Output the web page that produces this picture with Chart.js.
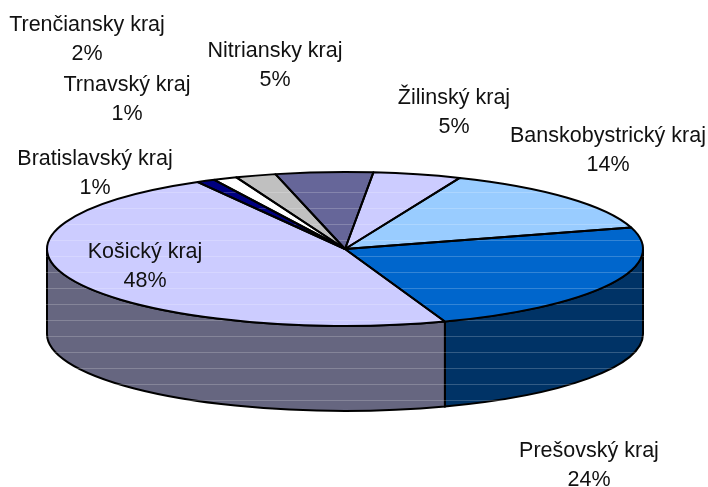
<!DOCTYPE html>
<html><head><meta charset="utf-8">
<script src="https://cdn.jsdelivr.net/npm/chart.js@4"></script>
<style>html,body{margin:0;padding:0;background:#fff}#w{position:relative;width:708px;height:487px}</style>
</head><body><div id="w"><canvas id="c" width="708" height="487"></canvas></div>
<script>
const categories = ['Bratislavský kraj','Trnavský kraj','Trenčiansky kraj','Nitriansky kraj','Žilinský kraj','Banskobystrický kraj','Prešovský kraj','Košický kraj'];
const values = [1.0,1.3,2.2,5.3,4.8,14.3,24.2,47.5];
const faceColors = ['#000080','#FFFFFF','#C0C0C0','#666699','#CCCCFF','#99CCFF','#0066CC','#CCCCFF'];
const wallColors = ['#000040','#808080','#606060','#333366','#666680','#4D6680','#003366','#666680'];
const labelCenters = [[95,159],[127,85],[87,25],[275,51],[454,98],[608,136],[589,451],[145,252]];

const TILT = 77/298, DEPTH = 85, LINE_GAP = 29;

const pie3d = {
  id:'pie3d',
  beforeDatasetsDraw(chart){
    const ctx = chart.ctx, arcs = chart.getDatasetMeta(0).data;
    const a0 = arcs[0], rx = a0.outerRadius, ry = rx*TILT, cx = a0.x, cy = a0.y;
    arcs.forEach((a,i)=>{
      const lo = Math.max(a.startAngle,0), hi = Math.min(a.endAngle,Math.PI);
      if(lo>=hi) return;
      ctx.beginPath();
      ctx.ellipse(cx,cy,rx,ry,0,lo,hi);
      ctx.ellipse(cx,cy+DEPTH,rx,ry,0,hi,lo,true);
      ctx.closePath();
      ctx.fillStyle = wallColors[i];
      ctx.fill();
      ctx.lineWidth = 2; ctx.strokeStyle = '#000'; ctx.stroke();
    });
    ctx.save();
    ctx.translate(cx,cy); ctx.scale(1,TILT); ctx.translate(-cx,-cy);
  },
  afterDatasetsDraw(chart){
    const ctx = chart.ctx, arcs = chart.getDatasetMeta(0).data;
    ctx.restore();
    const a0 = arcs[0], rx = a0.outerRadius, ry = rx*TILT, cx = a0.x, cy = a0.y;
    // faint horizontal banding over the pie only
    ctx.save();
    ctx.globalCompositeOperation = 'source-atop';
    ctx.strokeStyle = 'rgba(255,255,255,0.2)'; ctx.lineWidth = 1;
    for(let y=192.5;y<405;y+=16){ctx.beginPath();ctx.moveTo(0,y);ctx.lineTo(708,y);ctx.stroke();}
    ctx.restore();
    // outlines
    ctx.strokeStyle='#000'; ctx.lineWidth=2; ctx.lineJoin='round';
    arcs.forEach(a=>{
      ctx.beginPath();
      ctx.moveTo(cx,cy);
      ctx.ellipse(cx,cy,rx,ry,0,a.startAngle,a.endAngle);
      ctx.closePath();
      ctx.stroke();
    });
    // data labels
    ctx.fillStyle='#111'; ctx.font='21.5px "Liberation Sans", Arial, sans-serif';
    ctx.textAlign='center'; ctx.textBaseline='middle';
    categories.forEach((name,i)=>{
      const [x,y]=labelCenters[i];
      ctx.fillText(name,x,y);
      ctx.fillText(Math.round(values[i])+'%',x,y+LINE_GAP);
    });
  }
};

new Chart(document.getElementById('c'),{
  type:'pie',
  data:{labels:categories,datasets:[{data:values,backgroundColor:faceColors,borderWidth:0}]},
  options:{
    responsive:false,animation:false,
    rotation:-29.6,radius:298,
    layout:{padding:{top:11,right:18,left:0,bottom:0}},
    plugins:{legend:{display:false},tooltip:{enabled:false},title:{display:false}}
  },
  plugins:[pie3d]
});
</script></body></html>
